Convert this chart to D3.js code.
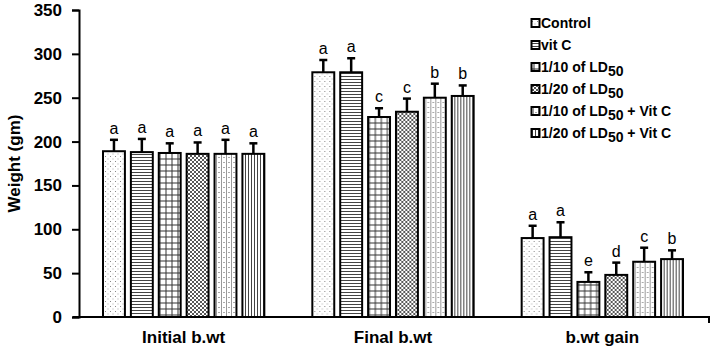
<!DOCTYPE html>
<html>
<head>
<meta charset="utf-8">
<script src="https://cdn.jsdelivr.net/npm/d3@7"></script>
<style>
  body { margin: 0; background: #fff; }
  text { font-family: "Liberation Sans", Arial, sans-serif; }
</style>
</head>
<body>
<script>
// data
const categories = ["Initial b.wt", "Final b.wt", "b.wt gain"];
const groups = ["Control", "vit C", "1/10 of LD50", "1/20 of LD50", "1/10 of LD50 + Vit C", "1/20 of LD50 + Vit C"];
const means = [
  [189, 188, 187, 186, 186, 186],
  [279, 279, 228, 234, 250, 252],
  [90, 91, 40, 48, 63, 66]
];
const errors = [
  [13, 15, 11, 13, 16, 12],
  [14, 16, 10, 15, 16, 12],
  [14, 17, 11, 14, 16, 10]
];
const letters = [
  ["a", "a", "a", "a", "a", "a"],
  ["a", "a", "c", "c", "b", "b"],
  ["a", "a", "e", "d", "c", "b"]
];
const yTicks = [0, 50, 100, 150, 200, 250, 300, 350];

const W = 713, H = 354;
const margin = {left: 79, right: 4, top: 10, bottom: 37};

const svg = d3.select("body").append("svg").attr("width", W).attr("height", H);

// fill patterns
const defs = svg.append("defs");
function pat(id, w, h) {
  const p = defs.append("pattern").attr("id", id).attr("patternUnits", "userSpaceOnUse")
    .attr("width", w).attr("height", h);
  p.append("rect").attr("width", w).attr("height", h).attr("fill", "#fff");
  return p;
}
let p = pat("p0", 5, 5);
p.append("rect").attr("x", 1).attr("y", 1).attr("width", 1).attr("height", 1).attr("fill", "#888");
p.append("rect").attr("x", 3.5).attr("y", 3.5).attr("width", 1).attr("height", 1).attr("fill", "#aaa");
p = pat("p1", 4, 3);
p.append("line").attr("x1", 0).attr("x2", 4).attr("y1", 1.5).attr("y2", 1.5).attr("stroke", "#444").attr("stroke-width", 1);
p = pat("p2", 6, 6);
p.append("line").attr("x1", 0).attr("x2", 6).attr("y1", 3).attr("y2", 3).attr("stroke", "#333").attr("stroke-width", 1);
p.append("line").attr("x1", 3).attr("x2", 3).attr("y1", 0).attr("y2", 6).attr("stroke", "#333").attr("stroke-width", 1);
p = pat("p3", 4, 4);
p.append("path").attr("d", "M0,0L4,4M4,0L0,4M-1,1L1,-1M3,5L5,3M-1,3L1,5M3,-1L5,1").attr("stroke", "#444").attr("stroke-width", 0.9);
p = pat("p4", 5, 5);
p.append("line").attr("x1", 0).attr("x2", 5).attr("y1", 2.5).attr("y2", 2.5).attr("stroke", "#aaa").attr("stroke-width", 1).attr("stroke-dasharray", "1,1");
p.append("line").attr("x1", 2.5).attr("x2", 2.5).attr("y1", 0).attr("y2", 5).attr("stroke", "#999").attr("stroke-width", 1);
p = pat("p5", 3, 4);
p.append("line").attr("x1", 1.5).attr("x2", 1.5).attr("y1", 0).attr("y2", 4).attr("stroke", "#444").attr("stroke-width", 1);

const x0 = d3.scaleBand().domain(categories).range([margin.left, W - margin.right - 2]);
const x1 = d3.scaleBand().domain(groups).range([24, x0.bandwidth() - 24]).paddingInner(0.214);
const y = d3.scaleLinear().domain([0, 350]).range([H - margin.bottom, margin.top]);

// axes
const yAxis = svg.append("g").attr("transform", `translate(${margin.left},0)`)
  .call(d3.axisLeft(y).tickValues(yTicks).tickSize(7).tickPadding(10));
yAxis.select(".domain").attr("stroke-width", 2);
yAxis.selectAll(".tick line").attr("stroke-width", 2);
yAxis.selectAll("text").attr("font-size", 17).attr("font-weight", "bold").attr("fill", "#000")
  .attr("font-family", "Liberation Sans, Arial, sans-serif");

svg.append("text").attr("transform", `translate(20,${(y(0) + y(350)) / 2}) rotate(-90)`)
  .attr("text-anchor", "middle").attr("font-size", 17).attr("font-weight", "bold").text("Weight (gm)");

// bars
const grp = svg.selectAll("g.cat").data(categories).enter().append("g")
  .attr("class", "cat").attr("transform", d => `translate(${x0(d)},0)`);

grp.each(function(c, ci) {
  const g = d3.select(this);
  const rows = groups.map((s, si) => ({s, si, v: means[ci][si], e: errors[ci][si], l: letters[ci][si]}));
  g.selectAll("rect").data(rows).enter().append("rect")
    .attr("x", d => x1(d.s)).attr("width", x1.bandwidth())
    .attr("y", d => y(d.v)).attr("height", d => y(0) - y(d.v))
    .attr("fill", d => `url(#p${d.si})`).attr("stroke", "#000").attr("stroke-width", 2);
  g.selectAll("line.err").data(rows).enter().append("line").attr("class", "err")
    .attr("x1", d => x1(d.s) + x1.bandwidth() / 2).attr("x2", d => x1(d.s) + x1.bandwidth() / 2)
    .attr("y1", d => y(d.v)).attr("y2", d => y(d.v + d.e))
    .attr("stroke", "#000").attr("stroke-width", 2.5);
  g.selectAll("line.cap").data(rows).enter().append("line").attr("class", "cap")
    .attr("x1", d => x1(d.s) + x1.bandwidth() / 2 - 4).attr("x2", d => x1(d.s) + x1.bandwidth() / 2 + 4)
    .attr("y1", d => y(d.v + d.e)).attr("y2", d => y(d.v + d.e))
    .attr("stroke", "#000").attr("stroke-width", 2.5);
  g.selectAll("text.sig").data(rows).enter().append("text").attr("class", "sig")
    .attr("x", d => x1(d.s) + x1.bandwidth() / 2).attr("y", d => y(d.v + d.e) - 6)
    .attr("text-anchor", "middle").attr("font-size", 16).text(d => d.l);
});

// x axis
const xAxis = svg.append("g").attr("transform", `translate(0,${y(0)})`);
xAxis.append("line").attr("x1", margin.left - 6).attr("x2", W - margin.right + 1)
  .attr("stroke", "#000").attr("stroke-width", 2);
xAxis.append("line").attr("x1", W - margin.right).attr("x2", W - margin.right)
  .attr("y1", 0).attr("y2", 6).attr("stroke", "#000").attr("stroke-width", 2);
xAxis.selectAll("text").data(categories).enter().append("text")
  .attr("x", d => x0(d) + x0.bandwidth() / 2).attr("y", 26)
  .attr("text-anchor", "middle").attr("font-size", 17).attr("font-weight", "bold").text(d => d);

// legend
const legend = svg.append("g").attr("transform", "translate(531,0)");
const legendLabels = [
  ["Control"], ["vit C"], ["1/10 of LD", "50"], ["1/20 of LD", "50"],
  ["1/10 of LD", "50", " + Vit C"], ["1/20 of LD", "50", " + Vit C"]
];
legendLabels.forEach((parts, i) => {
  const yy = 28 + i * 22;
  legend.append("rect").attr("x", 0.5).attr("y", yy - 9).attr("width", 8).attr("height", 8)
    .attr("fill", `url(#p${i})`).attr("stroke", "#000").attr("stroke-width", 2);
  const t = legend.append("text").attr("x", 10).attr("y", yy)
    .attr("font-size", 14).attr("font-weight", "bold");
  t.append("tspan").text(parts[0]);
  if (parts[1]) t.append("tspan").attr("dy", 4).attr("font-size", 14).text(parts[1]);
  if (parts[2]) t.append("tspan").attr("dy", -4).text(parts[2]);
});
</script>
</body>
</html>
